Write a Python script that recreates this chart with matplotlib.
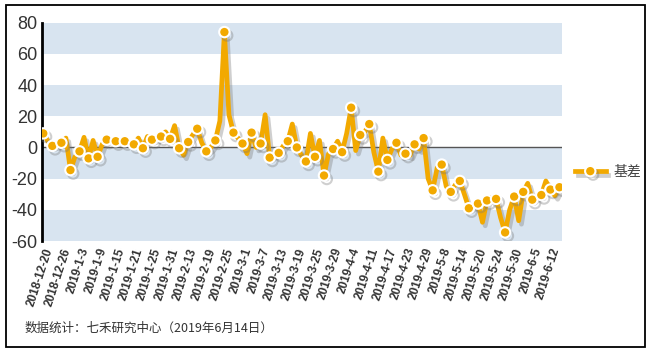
import matplotlib
matplotlib.use("Agg")
import matplotlib.pyplot as plt
import matplotlib.patheffects as pe
from matplotlib.patches import Rectangle
import numpy as np

plt.rcParams['font.family'] = ['Liberation Sans', 'Noto Sans CJK SC', 'DejaVu Sans']

# basis values (one per trading day, 2018-12-20 .. 2019-6-14)
basis = [9, 4, 1, 2, 3, 6, -14.5, -6, -2.5, 6.5,
         -7, 4.5, -6, 2, 5, 5, 4, 4, 4, 3,
         2, 6, -0.5, 7, 5, 6, 7, 10, 5.5, 14,
         -0.5, -5, 3.5, 8, 12, 3, -2.5, 0, 4.5, 17,
         74, 21, 9.5, 6, 2.5, -4, 9.5, 0, 2.5, 21,
         -6.5, -4, -3.5, 1, 4, 15, 0, -5, -9, 9,
         -6, 4.5, -18, -4, -1, 4, -3, 9, 25.5, -2,
         8, 10, 15, -3, -15.5, 6, -8, -1, 3, -5,
         -4, -5, 2, -1, 6, -20, -27.5, -13, -11, -25,
         -28.5, -24, -21.5, -30, -39, -37, -36, -48, -34, -32,
         -33, -45, -54.5, -40, -31.5, -47, -28.5, -23, -33.5, -31,
         -30.5, -21.5, -27, -31, -25.5]

tick_labels = ['2018-12-20', '2018-12-26', '2019-1-3', '2019-1-9', '2019-1-15',
               '2019-1-21', '2019-1-25', '2019-1-31', '2019-2-13', '2019-2-19',
               '2019-2-25', '2019-3-1', '2019-3-7', '2019-3-13', '2019-3-19',
               '2019-3-25', '2019-3-29', '2019-4-4', '2019-4-11', '2019-4-17',
               '2019-4-23', '2019-4-29', '2019-5-8', '2019-5-14', '2019-5-20',
               '2019-5-24', '2019-5-30', '2019-6-5', '2019-6-12']
series_name = '基差'
source_text = '数据统计：七禾研究中心（2019年6月14日）'

y_ticks = [-60, -40, -20, 0, 20, 40, 60, 80]

W, H = 649, 351
fig = plt.figure(figsize=(W / 100, H / 100), dpi=100)
fig.patch.set_facecolor('white')
ax = fig.add_axes([41.7 / W, 1 - 241 / H, (561.7 - 41.7) / W, (241 - 22.7) / H])

x = np.arange(len(basis))
ax.set_xlim(-0.35, len(basis) - 1 + 0.5)
ax.set_ylim(-60, 80)

# alternating bands
for lo in [60, 20, -20, -60]:
    ax.axhspan(lo, lo + 20, color='#D8E4F0', lw=0, zorder=0)
ax.axhline(0, color='#555555', lw=1.0, zorder=1)

orange = '#F2A900'
line, = ax.plot(x, basis, color=orange, lw=3.4, solid_joinstyle='round',
                marker='o', markevery=2, markersize=7.5,
                markerfacecolor=orange, markeredgecolor='white', markeredgewidth=1.5,
                zorder=3, label=series_name)
line.set_path_effects([pe.SimpleLineShadow(offset=(2, -2.5), shadow_color='#777777', alpha=0.35),
                       pe.Normal()])

ax.set_yticks(y_ticks)
ax.set_yticklabels([str(v) for v in y_ticks], fontsize=13, color='#333333')
ax.set_xticks(x[::4][:len(tick_labels)])
ax.set_xticklabels(tick_labels, rotation=72, ha='right', rotation_mode='anchor',
                   fontsize=8.5, fontweight='bold', color='#333333')
ax.tick_params(axis='both', length=0, pad=3)
ax.tick_params(axis='x', pad=4)

for s in ['top', 'right', 'bottom']:
    ax.spines[s].set_visible(False)
ax.spines['left'].set_linewidth(2)
ax.spines['left'].set_color('black')

leg = ax.legend(loc='center left', bbox_to_anchor=(575 / W, 1 - 172 / H),
                bbox_transform=fig.transFigure, frameon=False, fontsize=10,
                handlelength=2.2, handletextpad=0.55, borderpad=0, borderaxespad=0)
for t in leg.get_texts():
    t.set_color('#444444')
    t.set_family(['Noto Sans CJK SC', 'DejaVu Sans'])

fig.text(25 / W, 1 - 328 / H, source_text, fontsize=9.0, color='#333333',
         va='center', ha='left', family=['Noto Sans CJK SC', 'DejaVu Sans'])

fig.add_artist(Rectangle((5.5 / W, 1 - 346.5 / H), (645 - 5.5) / W, (346.5 - 5) / H,
                         transform=fig.transFigure, fill=False, ec='black', lw=1.3))

fig.savefig('out.png', dpi=100, facecolor='white')
